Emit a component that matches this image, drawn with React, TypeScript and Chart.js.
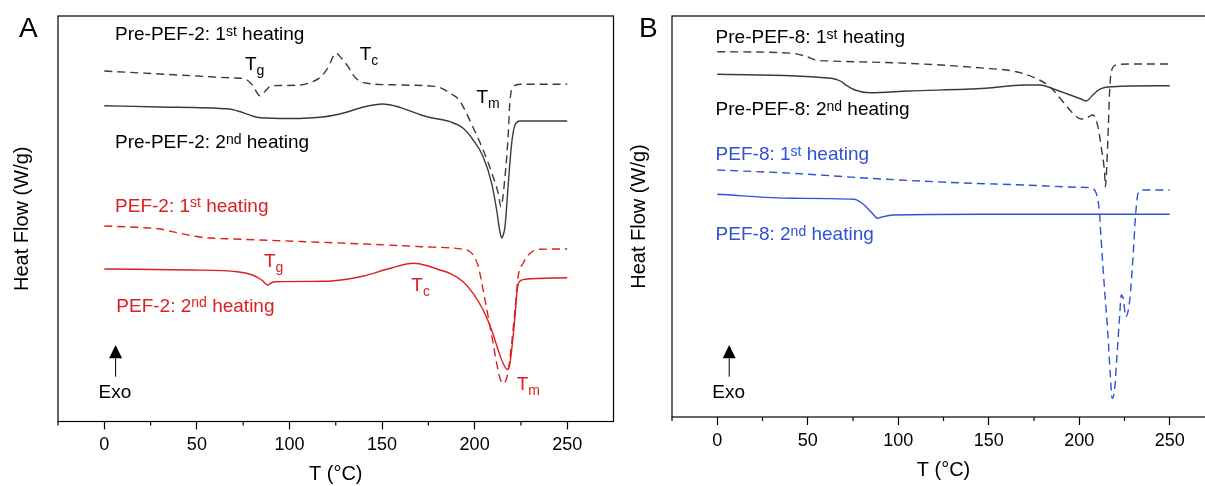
import React, { useEffect, useRef } from "react";
import { Chart, registerables } from "chart.js";

Chart.register(...registerables);

const FONT = '"Liberation Sans", Arial, Helvetica, sans-serif';
const GRAY = "#3b3b3b";
const BLACK = "#000000";
const RED = "#dd1f1f";
const BLUE = "#2f52d4";

// ---------- Panel A (PEF-2) : temperature (°C) / heat flow (W/g, stacked curves) ----------
const preA1T = [0, 20, 50, 70, 76, 80, 84, 87, 90, 95, 106, 112, 117, 121, 125, 128, 131.7, 134, 137, 142, 160, 176, 181, 186.8, 191.7, 193.8, 199, 204.6, 210, 212.7, 214.2, 216.4, 218.2, 219, 220.9, 224.5, 250];
const preA1HF = [3.505, 3.485, 3.455, 3.435, 3.425, 3.365, 3.258, 3.305, 3.355, 3.36, 3.365, 3.395, 3.448, 3.545, 3.682, 3.635, 3.548, 3.475, 3.415, 3.382, 3.365, 3.355, 3.342, 3.282, 3.215, 3.148, 2.948, 2.715, 2.448, 2.285, 2.148, 2.448, 2.885, 3.185, 3.348, 3.372, 3.372];

const preA2T = [0, 30, 67.7, 72, 76, 80, 84.3, 100, 119, 129.7, 140, 150.3, 157, 162.7, 171, 176, 181.3, 186.7, 193.8, 199.2, 204.6, 209.2, 211.9, 213.5, 214.6, 215.6, 216.4, 218.2, 220, 221.8, 224.5, 250];
const preA2HF = [3.158, 3.145, 3.125, 3.105, 3.082, 3.055, 3.038, 3.03, 3.048, 3.088, 3.145, 3.175, 3.155, 3.122, 3.065, 3.04, 3.022, 2.998, 2.932, 2.815, 2.648, 2.382, 2.115, 1.915, 1.835, 1.875, 1.948, 2.382, 2.782, 2.965, 3.005, 3.005];

const pefA1T = [0, 20, 30, 40, 50, 59.4, 70, 109, 140, 171, 193.8, 197, 199.2, 202, 204.6, 207.3, 210, 211.9, 213.7, 215.4, 217, 218.2, 220, 221.8, 223.5, 226.2, 229.9, 235.3, 250];
const pefA1HF = [1.955, 1.94, 1.925, 1.885, 1.85, 1.832, 1.825, 1.798, 1.775, 1.748, 1.722, 1.705, 1.665, 1.548, 1.315, 1.048, 0.782, 0.582, 0.432, 0.382, 0.415, 0.515, 0.782, 1.115, 1.448, 1.582, 1.682, 1.722, 1.725];

const pefA2T = [0, 47, 71.8, 80, 85, 88.3, 90, 92.4, 119, 130, 140, 155, 166.9, 175, 181.3, 186.7, 193.8, 199.2, 204.6, 209.2, 212.7, 215.4, 217.6, 219, 220, 221.8, 223, 224.1, 227.2, 250];
const pefA2HF = [1.525, 1.515, 1.498, 1.465, 1.415, 1.365, 1.385, 1.398, 1.402, 1.42, 1.455, 1.535, 1.582, 1.555, 1.515, 1.482, 1.398, 1.282, 1.115, 0.915, 0.715, 0.582, 0.522, 0.575, 0.715, 1.048, 1.315, 1.398, 1.422, 1.438];

// ---------- Panel B (PEF-8) ----------
const preB1T = [0, 41.7, 50, 54.5, 63, 105.6, 148.2, 165.2, 178, 183.7, 191, 196.5, 201, 204.7, 207.5, 210.3, 212.1, 214, 214.4, 215.8, 216.8, 217.7, 220.4, 227.7, 250];
const preB1HF = [3.653, 3.637, 3.6, 3.57, 3.56, 3.537, 3.487, 3.453, 3.37, 3.303, 3.153, 3.037, 2.98, 2.997, 3.02, 2.903, 2.703, 2.437, 2.303, 2.77, 3.27, 3.453, 3.52, 3.53, 3.53];

const preB2T = [0, 63, 68, 71.6, 76, 84.3, 105.6, 148.2, 169.5, 178, 187.3, 196.5, 201, 203.9, 205.5, 207.5, 211.2, 218.5, 250];
const preB2HF = [3.427, 3.387, 3.36, 3.313, 3.27, 3.243, 3.26, 3.287, 3.32, 3.32, 3.27, 3.21, 3.18, 3.16, 3.18, 3.22, 3.277, 3.303, 3.313];

const pefB1T = [0, 41.7, 84.3, 126.9, 169.5, 201.4, 205.7, 209.4, 211.2, 212.1, 214, 215.8, 217.1, 218.2, 219.5, 220.8, 222.3, 223.2, 224.5, 225.6, 227.9, 229.7, 231.2, 232.5, 235.3, 250];
const pefB1HF = [2.47, 2.437, 2.387, 2.347, 2.32, 2.297, 2.293, 2.237, 2.037, 1.77, 1.27, 0.837, 0.437, 0.187, 0.27, 0.603, 1.003, 1.22, 1.17, 1.003, 1.17, 1.603, 2.037, 2.237, 2.27, 2.27];

const pefB2T = [0, 41.7, 75.8, 79, 82.2, 85.5, 88.6, 91, 97.1, 148.2, 250];
const pefB2HF = [2.227, 2.187, 2.177, 2.15, 2.103, 2.04, 1.987, 2.0, 2.02, 2.027, 2.027];

// axis
const X_MIN = -25;
const X_MAX = 275;
const X_MAJOR = 50;
const X_MINOR = 25;
const X_TITLE = "T (°C)";
const Y_TITLE = "Heat Flow (W/g)";

// annotation texts (anchored in data coordinates)
const labelsA = [
  { x: 5.8, y: 3.815, text: "Pre-PEF-2: 1^{st} heating", color: BLACK },
  { x: 5.8, y: 2.735, text: "Pre-PEF-2: 2^{nd} heating", color: BLACK },
  { x: 5.8, y: 2.098, text: "PEF-2: 1^{st} heating", color: RED },
  { x: 6.5, y: 1.098, text: "PEF-2: 2^{nd} heating", color: RED },
  { x: 76, y: 3.515, text: "T_{g}", color: BLACK },
  { x: 137.9, y: 3.615, text: "T_{c}", color: BLACK },
  { x: 201, y: 3.185, text: "T_{m}", color: BLACK },
  { x: 86.2, y: 1.548, text: "T_{g}", color: RED },
  { x: 165.8, y: 1.308, text: "T_{c}", color: RED },
  { x: 222.7, y: 0.315, text: "T_{m}", color: RED },
];
const labelsB = [
  { x: -0.9, y: 3.737, text: "Pre-PEF-8: 1^{st} heating", color: BLACK },
  { x: -0.9, y: 3.02, text: "Pre-PEF-8: 2^{nd} heating", color: BLACK },
  { x: -0.9, y: 2.57, text: "PEF-8: 1^{st} heating", color: BLUE },
  { x: -0.9, y: 1.77, text: "PEF-8: 2^{nd} heating", color: BLUE },
];
const exoA = { x: 6.1, head: 0.765, base: 0.632, tail: 0.448, textX: 5.7, textY: 0.232 };
const exoB = { x: 6.6, head: 0.72, base: 0.587, tail: 0.403, textX: 6.3, textY: 0.187 };

type Curve = { T: number[]; HF: number[]; color: string; dashed: boolean };
type Panel = {
  letter: string;
  curves: Curve[];
  labels: { x: number; y: number; text: string; color: string }[];
  exo: typeof exoA;
  yMax: number;
  yAxisWidth: number;
  xAxisHeight: number;
  yTitlePad: number;
  padRight: number;
  canvasW: number;
  canvasH: number;
  left: number;
};

const panelA: Panel = {
  letter: "A",
  curves: [
    { T: preA1T, HF: preA1HF, color: GRAY, dashed: true },
    { T: preA2T, HF: preA2HF, color: GRAY, dashed: false },
    { T: pefA1T, HF: pefA1HF, color: RED, dashed: true },
    { T: pefA2T, HF: pefA2HF, color: RED, dashed: false },
  ],
  labels: labelsA,
  exo: exoA,
  yMax: 4.055,
  yAxisWidth: 58,
  xAxisHeight: 64.5,
  yTitlePad: 10,
  padRight: 6.5,
  canvasW: 620,
  canvasH: 486,
  left: 0,
};

const panelB: Panel = {
  letter: "B",
  curves: [
    { T: preB1T, HF: preB1HF, color: GRAY, dashed: true },
    { T: preB2T, HF: preB2HF, color: GRAY, dashed: false },
    { T: pefB1T, HF: pefB1HF, color: BLUE, dashed: true },
    { T: pefB2T, HF: pefB2HF, color: BLUE, dashed: false },
  ],
  labels: labelsB,
  exo: exoB,
  yMax: 4.01,
  yAxisWidth: 52,
  xAxisHeight: 65,
  yTitlePad: 7.5,
  padRight: 4.4,
  canvasW: 600,
  canvasH: 482,
  left: 620,
};

function drawRich(ctx: CanvasRenderingContext2D, x: number, y: number, text: string, color: string, size: number) {
  const re = /(\^\{[^}]*\}|_\{[^}]*\})/g;
  const parts = text.split(re).filter((p) => p.length > 0);
  let cx = x;
  ctx.fillStyle = color;
  ctx.textAlign = "left";
  ctx.textBaseline = "alphabetic";
  for (const p of parts) {
    let fs = size;
    let dy = 0;
    let t = p;
    if (p.startsWith("^{")) {
      t = p.slice(2, -1);
      fs = Math.round(size * 0.72);
      dy = -4.5;
    } else if (p.startsWith("_{")) {
      t = p.slice(2, -1);
      fs = Math.round(size * 0.76);
      dy = 5;
    }
    ctx.font = `${fs}px ${FONT}`;
    ctx.fillText(t, cx, y + dy);
    cx += ctx.measureText(t).width;
  }
}

function decorPlugin(p: Panel) {
  return {
    id: "decor" + p.letter,
    afterDraw(chart: any) {
      const ctx: CanvasRenderingContext2D = chart.ctx;
      const { left, right, top, bottom } = chart.chartArea;
      const xs = chart.scales.x;
      const ys = chart.scales.y;
      ctx.save();
      // frame
      ctx.strokeStyle = "#000";
      ctx.lineWidth = 1.2;
      ctx.setLineDash([]);
      ctx.strokeRect(left, top, right - left, bottom - top);
      // minor ticks
      ctx.beginPath();
      for (let v = X_MIN; v < X_MAX; v += X_MINOR) {
        if (v % X_MAJOR === 0) continue;
        const px = xs.getPixelForValue(v);
        ctx.moveTo(px, bottom);
        ctx.lineTo(px, bottom + 4);
      }
      ctx.stroke();
      // labels
      for (const l of p.labels) {
        drawRich(ctx, xs.getPixelForValue(l.x), ys.getPixelForValue(l.y), l.text, l.color, 19);
      }
      // exo arrow
      const ax = xs.getPixelForValue(p.exo.x);
      const hy = ys.getPixelForValue(p.exo.head);
      const by = ys.getPixelForValue(p.exo.base);
      const ty = ys.getPixelForValue(p.exo.tail);
      ctx.fillStyle = "#000";
      ctx.beginPath();
      ctx.moveTo(ax, hy);
      ctx.lineTo(ax - 6.5, by);
      ctx.lineTo(ax + 6.5, by);
      ctx.closePath();
      ctx.fill();
      ctx.lineWidth = 1;
      ctx.beginPath();
      ctx.moveTo(ax, by);
      ctx.lineTo(ax, ty);
      ctx.stroke();
      ctx.font = `19px ${FONT}`;
      ctx.textAlign = "center";
      ctx.textBaseline = "alphabetic";
      ctx.fillText("Exo", xs.getPixelForValue(p.exo.textX), ys.getPixelForValue(p.exo.textY));
      // panel letter
      ctx.font = `28px ${FONT}`;
      ctx.textAlign = "left";
      ctx.fillText(p.letter, 19, 37);
      ctx.restore();
    },
  };
}

function makeConfig(p: Panel): any {
  return {
    type: "line",
    data: {
      datasets: p.curves.map((c) => ({
        data: c.T.map((t, i) => ({ x: t, y: c.HF[i] })),
        borderColor: c.color,
        borderWidth: 1.4,
        borderDash: c.dashed ? [8, 5] : [],
        pointRadius: 0,
        fill: false,
        cubicInterpolationMode: "monotone",
      })),
    },
    options: {
      responsive: false,
      animation: false,
      events: [],
      layout: { padding: { top: 16, right: p.padRight, left: 0, bottom: 0 } },
      plugins: {
        legend: { display: false },
        tooltip: { enabled: false },
        title: { display: false },
      },
      scales: {
        x: {
          type: "linear",
          min: X_MIN,
          max: X_MAX,
          ticks: {
            stepSize: X_MINOR,
            autoSkip: false,
            maxRotation: 0,
            color: "#000",
            padding: 5,
            font: { size: 18, family: FONT },
            callback: (v: number) => (v % X_MAJOR === 0 ? String(v) : ""),
          },
          grid: {
            display: true,
            drawOnChartArea: false,
            drawTicks: true,
            tickLength: 8,
            tickWidth: 1.2,
            color: "rgba(0,0,0,0)",
            tickColor: (ctx: any) => (ctx.tick && ctx.tick.value % X_MAJOR === 0 ? "#000" : "rgba(0,0,0,0)"),
          },
          border: { display: false },
          title: {
            display: true,
            text: X_TITLE,
            color: "#000",
            font: { size: 20, family: FONT },
            padding: { top: 0, bottom: 0 },
          },
          afterFit: (s: any) => {
            s.height = p.xAxisHeight;
          },
        },
        y: {
          type: "linear",
          min: 0,
          max: p.yMax,
          ticks: { display: false },
          grid: { display: false },
          border: { display: false },
          title: {
            display: true,
            text: Y_TITLE,
            color: "#000",
            font: { size: 20, family: FONT },
            padding: { top: p.yTitlePad, bottom: 0 },
          },
          afterFit: (s: any) => {
            s.width = p.yAxisWidth;
          },
        },
      },
    },
    plugins: [decorPlugin(p)],
  };
}

function PanelChart({ panel }: { panel: Panel }) {
  const ref = useRef<HTMLCanvasElement>(null);
  useEffect(() => {
    const chart = new Chart(ref.current as HTMLCanvasElement, makeConfig(panel));
    return () => chart.destroy();
  }, [panel]);
  return (
    <canvas
      ref={ref}
      width={panel.canvasW}
      height={panel.canvasH}
      style={{ position: "absolute", left: panel.left, top: 0, width: panel.canvasW, height: panel.canvasH }}
    />
  );
}

export default function App() {
  return (
    <div
      style={{
        position: "fixed",
        left: 0,
        top: 0,
        width: 1205,
        height: 486,
        overflow: "hidden",
        background: "#fff",
      }}
    >
      <PanelChart panel={panelA} />
      <PanelChart panel={panelB} />
    </div>
  );
}
